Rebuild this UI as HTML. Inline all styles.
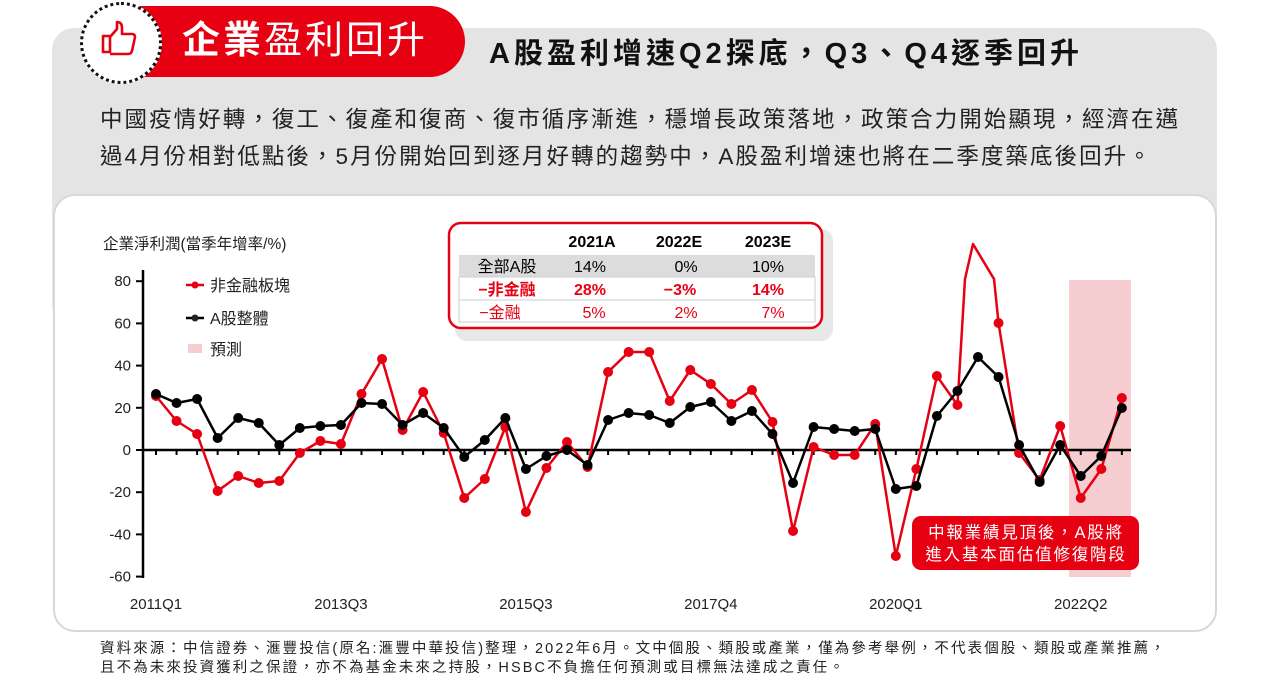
<!DOCTYPE html>
<html><head><meta charset="utf-8">
<style>
body{margin:0;width:1280px;height:694px;background:#fff;position:relative;overflow:hidden;font-family:"Liberation Sans","Noto Sans CJK TC",sans-serif;}
.abs{position:absolute;}
</style></head><body>
<div class="abs" style="left:52px;top:28px;width:1165px;height:300px;background:#e4e4e4;border-radius:22px;"></div>
<div class="abs" style="left:140px;top:6px;width:325px;height:71px;background:#e60012;border-radius:0 36px 36px 0;"></div>
<div class="abs" style="left:80px;top:2px;width:76px;height:76px;border-radius:50%;background:#fff;border:3px dotted #111;"></div>
<svg class="abs" style="left:100px;top:20px" width="40" height="40" viewBox="0 0 40 40"><path d="M3 16 h7 v16 h-7 z M10 17 l7-8 v-7 q5 0 5 6 v6 h10 q3 0 3 3 l-3 14 q-1 3-4 3 h-18" fill="none" stroke="#e60012" stroke-width="2.6" stroke-linejoin="round"/></svg>
<div class="abs" style="left:182px;top:16px;font-size:38px;color:#fff;line-height:50px;letter-spacing:3px;white-space:nowrap;"><b>企業</b>盈利回升</div>
<div class="abs" style="left:489px;top:35px;font-size:29px;font-weight:bold;color:#111;line-height:38px;letter-spacing:4px;white-space:nowrap;">A股盈利增速Q2探底，Q3、Q4逐季回升</div>
<div class="abs" style="left:100px;top:101px;font-size:22.5px;color:#222;line-height:37px;width:1150px;letter-spacing:2.05px;white-space:nowrap;">中國疫情好轉，復工、復產和復商、復市循序漸進，穩增長政策落地，政策合力開始顯現，經濟在邁<br>過4月份相對低點後，5月份開始回到逐月好轉的趨勢中，A股盈利增速也將在二季度築底後回升。</div>
<div class="abs" style="left:53px;top:194px;width:1160px;height:434px;background:#fff;border:2px solid #d8d8d8;border-radius:22px;"></div>
<svg class="abs" style="left:0;top:0" width="1280" height="694" id="ch">
<rect x="1069" y="280" width="62" height="297" fill="#f6cdd0"/>
<text x="103" y="249" font-size="15.5" fill="#222">企業淨利潤(當季年增率/%)</text>
<g id="g"></g>
<rect x="455" y="229" width="378" height="112" rx="12" fill="#e8e8e8"/>
<rect x="449" y="223" width="373" height="105" rx="12" fill="#fff" stroke="#e60012" stroke-width="2.5"/>
<rect x="459" y="255" width="356" height="22" fill="#dcdcdc"/>
<rect x="459" y="277" width="356" height="45" fill="none" stroke="#ccc" stroke-width="1"/>
<line x1="459" y1="300" x2="815" y2="300" stroke="#ccc"/>
<g font-size="16" text-anchor="middle">
<text x="592" y="247" font-weight="bold">2021A</text><text x="679" y="247" font-weight="bold">2022E</text><text x="768" y="247" font-weight="bold">2023E</text>
<text x="507" y="272">全部A股</text><text x="590" y="272">14%</text><text x="686" y="272">0%</text><text x="768" y="272">10%</text>
<g fill="#e60012" font-weight="bold"><text x="507" y="295">−非金融</text><text x="590" y="295">28%</text><text x="680" y="295">−3%</text><text x="768" y="295">14%</text></g>
<g fill="#e60012"><text x="500" y="318">−金融</text><text x="594" y="318">5%</text><text x="686" y="318">2%</text><text x="773" y="318">7%</text></g>
</g>
<g font-size="16" fill="#222">
<line x1="186" y1="285" x2="204" y2="285" stroke="#e60012" stroke-width="2.5"/><circle cx="195" cy="285" r="3.5" fill="#e60012"/><text x="210" y="291">非金融板塊</text>
<line x1="186" y1="318" x2="204" y2="318" stroke="#000" stroke-width="2.5"/><circle cx="195" cy="318" r="3.5"/><text x="210" y="324">A股整體</text>
<rect x="188" y="344" width="14" height="9" fill="#f6cdd0"/><text x="210" y="355">預測</text>
</g>
<rect x="912" y="516" width="227" height="54" rx="9" fill="#e60012"/>
<text x="1026" y="538" font-size="16.5" fill="#fff" text-anchor="middle" letter-spacing="1.8">中報業績見頂後，A股將</text>
<text x="1026" y="560" font-size="16.5" fill="#fff" text-anchor="middle" letter-spacing="1.8">進入基本面估值修復階段</text>
</svg>
<div class="abs" style="left:100px;top:640px;font-size:14.5px;color:#222;line-height:19px;letter-spacing:2.1px;white-space:nowrap;">資料來源：中信證券、滙豐投信(原名:滙豐中華投信)整理，2022年6月。文中個股、類股或產業，僅為參考舉例，不代表個股、類股或產業推薦，<br>且不為未來投資獲利之保證，亦不為基金未來之持股，HSBC不負擔任何預測或目標無法達成之責任。</div>
<script>
var R=[396,421,434,491,476,483,481,453,441,444,394,359,430,392,433,498,479,427,512,468,442,467,372,352,352,401,370,384,404,390,422,531,447,455,455,424,556,469,376,405,null,323,453,480,426,498,469,398];
var B=[394,403,399,438,418,423,445,428,426,425,403,404,425,413,428,457,440,418,469,456,450,465,420,413,415,423,407,402,421,411,434,483,427,429,431,429,489,486,416,391,357,377,445,482,445,476,456,408];
var s='',X=function(i){return 156+20.55*i;};
s+='<line x1="143" y1="270" x2="143" y2="578" stroke="#000" stroke-width="2.5"/>';
var labs=[80,60,40,20,0,-20,-40,-60];
labs.forEach(function(v){var y=450-v*2.11;s+='<line x1="136" y1="'+y+'" x2="143" y2="'+y+'" stroke="#000" stroke-width="2"/><text x="131" y="'+(y+5)+'" font-size="15" text-anchor="end" fill="#222">'+v+'</text>';});
s+='<line x1="143" y1="450" x2="1131" y2="450" stroke="#000" stroke-width="2.5"/>';
for(var i=0;i<48;i++){s+='<line x1="'+X(i)+'" y1="450" x2="'+X(i)+'" y2="455" stroke="#000" stroke-width="2"/>';}
[['2011Q1',0],['2013Q3',9],['2015Q3',18],['2017Q4',27],['2020Q1',36],['2022Q2',45]].forEach(function(a){s+='<text x="'+X(a[1])+'" y="609" font-size="15" text-anchor="middle" fill="#222">'+a[0]+'</text>';});
var rp=[];for(i=0;i<48;i++){if(R[i]===null){rp.push('965,279','973,244','994,279');}else rp.push(X(i)+','+R[i]);}
s+='<polyline points="'+rp.join(' ')+'" fill="none" stroke="#e60012" stroke-width="2.5" stroke-linejoin="round"/>';
for(i=0;i<48;i++)if(R[i]!==null)s+='<circle cx="'+X(i)+'" cy="'+R[i]+'" r="5" fill="#e60012"/>';
var bp=[];for(i=0;i<48;i++)bp.push(X(i)+','+B[i]);
s+='<polyline points="'+bp.join(' ')+'" fill="none" stroke="#000" stroke-width="2.5" stroke-linejoin="round"/>';
for(i=0;i<48;i++)s+='<circle cx="'+X(i)+'" cy="'+B[i]+'" r="5" fill="#000"/>';
document.getElementById('g').innerHTML=s;
</script>
</body></html>
